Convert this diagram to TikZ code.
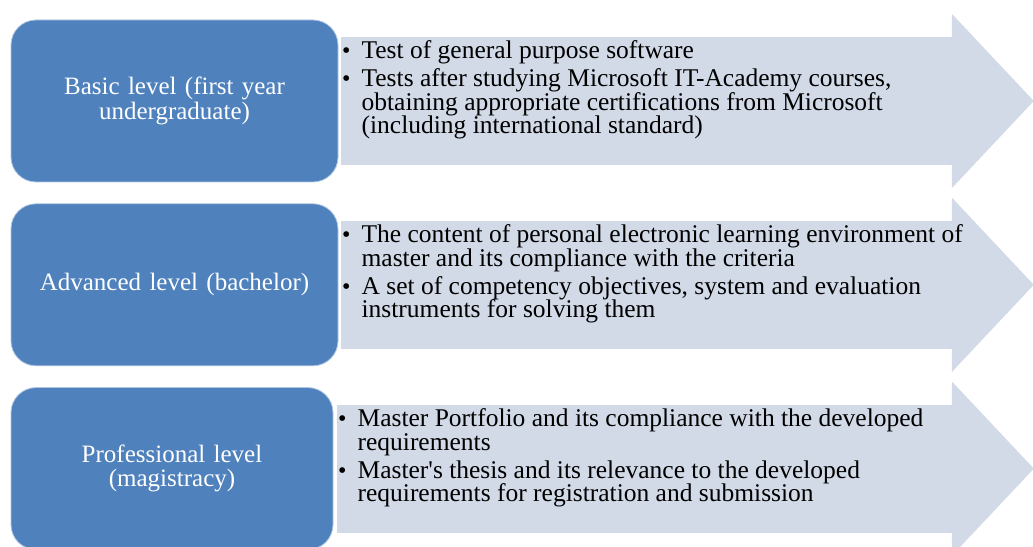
\documentclass[tikz,border=0pt]{standalone}
\usepackage{fontspec}
\setmainfont{Liberation Serif}
\usepackage{enumitem}
\usepackage{tikz}
\usetikzlibrary{positioning,backgrounds}
\definecolor{levelblue}{RGB}{79,129,189}
\definecolor{itemgray}{RGB}{210,217,231}
\newcommand{\levelfont}{\fontsize{25}{24.5}\selectfont}
\newcommand{\itemfont}{\fontsize{25.5}{23.5}\selectfont}
\setlist[itemize]{label={\fontsize{24}{24}\selectfont\textbullet}, leftmargin=21pt, labelsep=11pt, itemsep=4.5pt, topsep=0pt, parsep=0pt, partopsep=0pt}
\tikzstyle{level} = [rectangle, rounded corners=25pt, minimum width=327pt, minimum height=162pt, text centered, text width=310pt, fill=levelblue, draw=levelblue!45!white, line width=0.8pt, text=white, font=\levelfont]
\tikzstyle{items} = [rectangle, minimum width=612pt, minimum height=128pt, inner sep=0pt, fill=itemgray, font=\itemfont]

\begin{document}
\begin{tikzpicture}[x=1pt, y=1pt, node distance=21pt]
\useasboundingbox (0,0) rectangle (1033,546);

\node (basic) [level] at (174.5,445) {Basic level (first year\\undergraduate)};
\node (advanced) [level, below=of basic] {Advanced level (bachelor)};
\node (professional) [level, minimum width=322pt, below=of advanced.south west, anchor=north west] {Professional level\\(magistracy)};

\node (basicitems) [items, right=2pt of basic] {\makebox[612pt][l]{\parbox[t][120pt][t]{640pt}{
 \begin{itemize}
  \item Test of general purpose software
  \item Tests after studying Microsoft IT-Academy courses,\\
   obtaining appropriate certifications from Microsoft\\
   (including international standard)
 \end{itemize}}}};
\node (advanceditems) [items, right=2pt of advanced] {\makebox[612pt][l]{\parbox[t][120pt][t]{640pt}{
 \begin{itemize}
  \item The content of personal electronic learning environment of\\
   master and its compliance with the criteria
  \item A set of competency objectives, system and evaluation\\
   instruments for solving them
 \end{itemize}}}};
\node (professionalitems) [items, minimum width=616pt, right=3pt of professional] {\makebox[616pt][l]{\parbox[t][120pt][t]{640pt}{
 \begin{itemize}
  \item Master Portfolio and its compliance with the developed\\
   requirements
  \item Master\textquotesingle s thesis and its relevance to the developed\\
   requirements for registration and submission
 \end{itemize}}}};

\begin{scope}[on background layer]
\foreach \row in {basicitems, advanceditems, professionalitems}
 \fill[itemgray] ([xshift=-1pt, yshift=23pt]\row.north east) -- ([xshift=81pt]\row.east) -- ([xshift=-1pt, yshift=-23pt]\row.south east) -- cycle;
\end{scope}
\end{tikzpicture}
\end{document}
